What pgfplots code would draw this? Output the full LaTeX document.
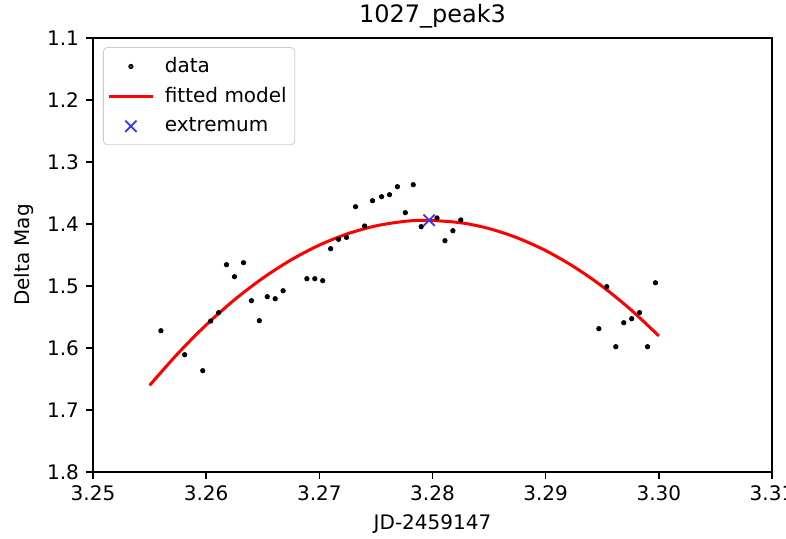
\documentclass[border=0pt]{standalone}
\usepackage{fontspec}
\setmainfont{DejaVu Sans}
\usepackage{pgfplots}
\pgfplotsset{compat=1.18}
\pgfplotsset{
  mylineleg/.style={legend image code/.code={\draw[##1] (0pt,0pt) -- (22pt,0pt); \path[draw=none,fill=none] (0pt,0pt) (26pt,0pt);}},
  mymarkleg/.style={legend image code/.code={\draw[##1] plot coordinates {(11pt,0pt)}; \path[draw=none,fill=none] (0pt,0pt) (26pt,0pt);}},
}
\begin{document}
\begin{tikzpicture}
\begin{axis}[
  at={(0,0)}, anchor=south west,
  scale only axis,
  width=339.5pt, height=217pt,
  xmin=3.25, xmax=3.31, ymin=1.1, ymax=1.8,
  y dir=reverse,
  xtick={3.25,3.26,3.27,3.28,3.29,3.30,3.31},
  ytick={1.1,1.2,1.3,1.4,1.5,1.6,1.7,1.8},
  xtick pos=bottom, ytick pos=left,
  xticklabel style={/pgf/number format/.cd, fixed, fixed zerofill, precision=2, assume math mode=true},
  yticklabel style={/pgf/number format/.cd, fixed, fixed zerofill, precision=1, assume math mode=true},
  scaled x ticks=false, scaled y ticks=false,
  tick align=outside,
  major tick length=3.5pt,
  tick style={black, line width=0.8pt},
  axis line style={line width=0.8pt},
  every tick label/.append style={font=\fontsize{10}{12}\selectfont},
  title={1027\_peak3},
  title style={font=\fontsize{12}{14}\selectfont, yshift=-4.5pt},
  xlabel={JD-2459147},
  ylabel={Delta Mag},
  label style={font=\fontsize{10}{12}\selectfont},
  legend cell align=left,
  legend style={at={(0,1)}, anchor=north west, xshift=5pt, yshift=-4.5pt,
    draw=black!20, rounded corners=2pt, fill=white, fill opacity=0.8, text opacity=1,
    font=\fontsize{10}{12}\selectfont, row sep=2pt, inner xsep=2pt, inner ysep=3pt},
]
\addplot[only marks, mark=*, mark size=1.1pt, black, mymarkleg] coordinates {
(3.2560,1.5721) (3.2581,1.6108) (3.2597,1.6366) (3.2604,1.5565) (3.2611,1.5430)
(3.2618,1.4656) (3.2625,1.4850) (3.2633,1.4624) (3.2640,1.5237) (3.2647,1.5559)
(3.2654,1.5172) (3.2661,1.5205) (3.2668,1.5076) (3.2689,1.4882) (3.2696,1.4882)
(3.2703,1.4914) (3.2710,1.4398) (3.2717,1.4247) (3.2724,1.4215) (3.2732,1.3721)
(3.2740,1.4032) (3.2747,1.3624) (3.2755,1.3560) (3.2762,1.3527) (3.2769,1.3398)
(3.2776,1.3817) (3.2783,1.3366) (3.2790,1.4043) (3.2804,1.3903) (3.2811,1.4269)
(3.2818,1.4108) (3.2825,1.3935)
(3.2947,1.5688) (3.2954,1.5011) (3.2962,1.5979) (3.2969,1.5592) (3.2976,1.5527)
(3.2983,1.5430) (3.2990,1.5979) (3.2997,1.4947)
};
\addlegendentry{data}
\addplot[red, line width=1.5pt, smooth, no marks, mylineleg] coordinates {
(3.2550,1.6603) (3.2575,1.6088) (3.2600,1.5627) (3.2625,1.5222) (3.2650,1.4873)
(3.2675,1.4579) (3.2700,1.4340) (3.2725,1.4157) (3.2750,1.4030) (3.2775,1.3958)
(3.2795,1.3940) (3.2825,1.3980) (3.2850,1.4074) (3.2875,1.4224) (3.2900,1.4429)
(3.2925,1.4690) (3.2950,1.5006) (3.2975,1.5378) (3.3000,1.5805)
};
\addlegendentry{fitted model}
\addplot[only marks, mark=x, mark size=4pt, blue!80!white, mark options={line width=0.9pt}, mymarkleg] coordinates {(3.2797,1.3940)};
\addlegendentry{extremum}
\end{axis}
\pgfresetboundingbox
\path (-46.5pt,-33pt) rectangle (346.5pt,236pt);
\end{tikzpicture}
\end{document}
